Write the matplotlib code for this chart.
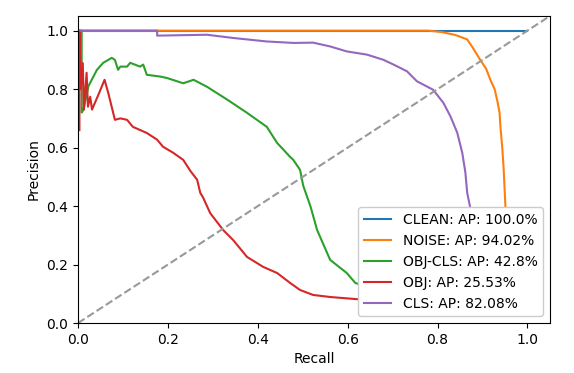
import matplotlib
matplotlib.use("Agg")
import matplotlib.pyplot as plt

# precision / recall values
clean_r = [0.0, 1.0]
clean_p = [1.0, 1.0]

noise_r = [0.0, 0.78, 0.81, 0.84, 0.866, 0.877, 0.895, 0.908, 0.918, 0.927, 0.933,
           0.938, 0.94, 0.944, 0.947, 0.951, 0.953, 0.955]
noise_p = [1.0, 1.0, 0.995, 0.985, 0.97, 0.945, 0.90, 0.87, 0.83, 0.80, 0.76,
           0.72, 0.67, 0.60, 0.53, 0.40, 0.33, 0.25]

objcls_r = [0.0, 0.008, 0.008, 0.012, 0.023, 0.042, 0.056, 0.075, 0.082, 0.089, 0.094,
            0.109, 0.116, 0.138, 0.145, 0.153, 0.183, 0.198, 0.234, 0.257, 0.287,
            0.332, 0.376, 0.42, 0.443, 0.472, 0.479, 0.494, 0.501, 0.517, 0.532,
            0.561, 0.598, 0.617, 0.65, 0.68]
objcls_p = [1.0, 1.0, 0.72, 0.73, 0.81, 0.866, 0.89, 0.907, 0.90, 0.866, 0.877,
            0.877, 0.89, 0.877, 0.884, 0.849, 0.843, 0.838, 0.82, 0.832, 0.808,
            0.764, 0.719, 0.671, 0.616, 0.568, 0.558, 0.524, 0.47, 0.40, 0.318,
            0.216, 0.171, 0.137, 0.12, 0.10]

obj_r = [0.003, 0.003, 0.006, 0.0105, 0.013, 0.019, 0.022, 0.027, 0.031, 0.045, 0.059,
         0.067, 0.082, 0.094, 0.109, 0.122, 0.153, 0.176, 0.189, 0.212, 0.234, 0.25,
         0.265, 0.272, 0.278, 0.294, 0.323, 0.345, 0.376, 0.412, 0.443, 0.472,
         0.494, 0.523, 0.561, 0.617, 0.66, 0.70]
obj_p = [0.66, 1.0, 0.80, 0.889, 0.73, 0.856, 0.74, 0.774, 0.73, 0.78, 0.832,
         0.788, 0.695, 0.70, 0.695, 0.671, 0.65, 0.627, 0.603, 0.582, 0.558, 0.52,
         0.49, 0.445, 0.43, 0.376, 0.318, 0.284, 0.226, 0.192, 0.171, 0.137,
         0.113, 0.096, 0.089, 0.082, 0.078, 0.075]

cls_r = [0.0, 0.176, 0.176, 0.287, 0.345, 0.42, 0.48, 0.523, 0.561, 0.598, 0.643,
         0.68, 0.702, 0.732, 0.754, 0.79, 0.813, 0.829, 0.844, 0.855, 0.862, 0.866,
         0.872, 0.876, 0.878]
cls_p = [1.0, 1.0, 0.983, 0.986, 0.975, 0.963, 0.958, 0.959, 0.946, 0.929, 0.918,
         0.90, 0.884, 0.861, 0.827, 0.798, 0.753, 0.706, 0.65, 0.582, 0.514, 0.445,
         0.40, 0.34, 0.30]

labels = ["CLEAN: AP: 100.0%", "NOISE: AP: 94.02%", "OBJ-CLS: AP: 42.8%",
          "OBJ: AP: 25.53%", "CLS: AP: 82.08%"]

fig = plt.figure(figsize=(5.74, 3.73), dpi=100)
ax = fig.add_axes([0.136, 0.134, 0.822, 0.823])

ax.plot(clean_r, clean_p, label=labels[0])
ax.plot(noise_r, noise_p, label=labels[1])
ax.plot(objcls_r, objcls_p, label=labels[2])
ax.plot(obj_r, obj_p, label=labels[3])
ax.plot(cls_r, cls_p, label=labels[4])

# chance diagonal
ax.plot([0, 1.1], [0, 1.1], "--", color="#999999")

ax.set_xlim(0, 1.05)
ax.set_ylim(0, 1.05)
ax.set_xlabel("Recall")
ax.set_ylabel("Precision")
ax.legend(loc="lower right", framealpha=1)

fig.savefig("out.png", dpi=100)
